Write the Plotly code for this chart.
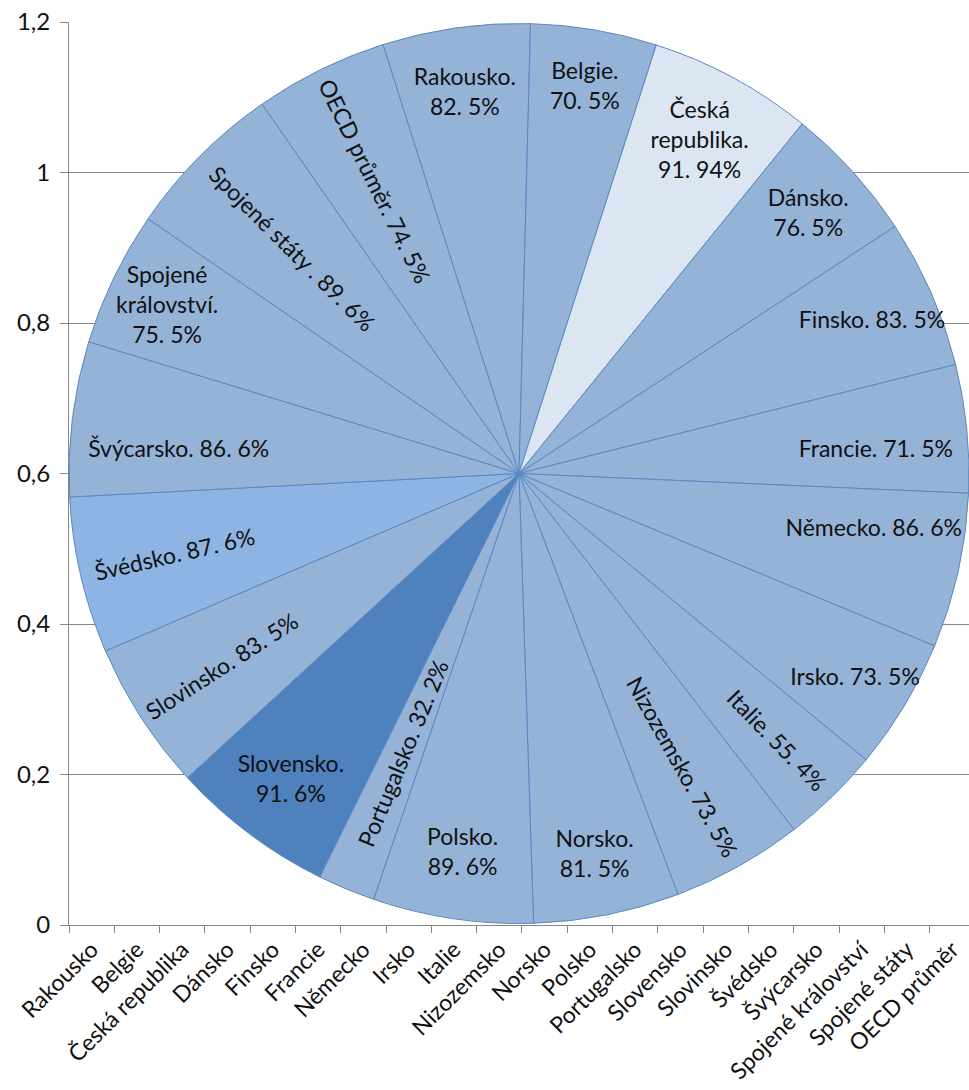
import plotly.graph_objects as go

# ---------------- data ----------------
countries = ["Rakousko", "Belgie", "Česká republika", "Dánsko", "Finsko", "Francie",
             "Německo", "Irsko", "Italie", "Nizozemsko", "Norsko", "Polsko",
             "Portugalsko", "Slovensko", "Slovinsko", "Švédsko", "Švýcarsko",
             "Spojené království", "Spojené státy", "OECD průměr"]
shares = [82.5, 70.5, 91.94, 76.5, 83.5, 71.5, 86.6, 73.5, 55.4, 73.5, 81.5, 89.6,
          32.2, 91.6, 83.5, 87.6, 86.6, 75.5, 89.6, 74.5]
pie_names = ["Rakousko.", "Belgie.", "Česká<br>republika.", "Dánsko.", "Finsko.", "Francie.",
             "Německo.", "Irsko.", "Italie.", "Nizozemsko.", "Norsko.", "Polsko.",
             "Portugalsko.", "Slovensko.", "Slovinsko.", "Švédsko.", "Švýcarsko.",
             "Spojené<br>království.", "Spojené státy .", "OECD průměr."]
y_ticks = [0, 0.2, 0.4, 0.6, 0.8, 1.0, 1.2]

# ---------------- label styling ----------------
# value on a new line?
value_breaks = [True, True, True, True, False, False, False, False, False, False, True, True,
                False, True, False, False, False, True, False, False]
# label placement: h = horizontal, r = radial, w = horizontal (wide, nearer centre)
label_modes = ["h", "h", "h", "h", "h", "w", "w", "h", "r", "r", "h", "h",
               "r", "h", "r", "r", "w", "h", "r", "r"]
# em-space padding before / after radial labels (shifts them along the radius)
pad_lead = [0, 0, 0, 0, 0, 0, 0, 0, 9, 7, 0, 0, 3, 0, 0, 0, 0, 0, 0, 0]
pad_trail = [0, 0, 0, 0, 0, 0, 0, 0, 0, 0, 0, 0, 0, 0, 10, 10, 0, 0, 6, 6]

BASE = "#95B3D7"
special = {"Česká republika": "#DCE6F2", "Švédsko": "#8DB4E2", "Slovensko": "#4F81BD"}
slice_colors = [special.get(c, BASE) for c in countries]
FONT = "Lato, 'Open Sans', 'DejaVu Sans', sans-serif"
TXT = "#111111"
GRID = "#878787"
PIE_FS = 23
EM = "\u2003"


def fmt(v):
    return ("%g" % v).replace(".", ". ") + "%"


texts = []
for name, v, br, pl, pt in zip(pie_names, shares, value_breaks, pad_lead, pad_trail):
    texts.append(EM * pl + name + ("<br>" if br else " ") + fmt(v) + EM * pt)

text_h = [t if m == "h" else "" for t, m in zip(texts, label_modes)]
text_r = [t if m == "r" else "" for t, m in zip(texts, label_modes)]
text_w = [t if m == "w" else "" for t, m in zip(texts, label_modes)]

fig = go.Figure()

# invisible trace to register the category axis
fig.add_trace(go.Scatter(x=countries, y=[0] * len(countries), mode="markers",
                         marker=dict(size=0.1, opacity=0), hoverinfo="skip",
                         showlegend=False))

common = dict(labels=countries, values=shares, sort=False, direction="clockwise",
              rotation=-17.6, textinfo="text", textposition="inside", showlegend=False,
              hoverinfo="skip", insidetextfont=dict(family=FONT, size=PIE_FS, color=TXT))
clear = dict(colors=["rgba(0,0,0,0)"] * len(countries), line=dict(width=0))

fig.add_trace(go.Pie(text=text_h, insidetextorientation="horizontal",
                     marker=dict(colors=slice_colors, line=dict(color="#5A88C2", width=1)),
                     domain=dict(x=[0, 1], y=[0, 1]), **common))
fig.add_trace(go.Pie(text=text_r, insidetextorientation="radial", marker=clear,
                     domain=dict(x=[0, 1], y=[0, 1]), **common))
fig.add_trace(go.Pie(text=text_w, insidetextorientation="horizontal", marker=clear,
                     domain=dict(x=[0.0261, 0.9739], y=[0.0554, 1.0]), **common))

fig.update_layout(
    width=969, height=1090,
    margin=dict(l=69, r=0, t=22, b=165),
    paper_bgcolor="white", plot_bgcolor="white",
    separators=", ",
    uniformtext=dict(mode="show", minsize=PIE_FS),
    font=dict(family=FONT, color=TXT),
    showlegend=False,
    xaxis=dict(type="category", categoryorder="array", categoryarray=countries,
               range=[-0.5, 19.37], tickangle=-45, tickson="boundaries",
               ticks="outside", ticklen=7, tickcolor=GRID, showgrid=False,
               showline=True, linecolor=GRID, linewidth=1, zeroline=False,
               ticklabelstandoff=1,
               tickfont=dict(family=FONT, size=23, color=TXT), automargin=False,
               fixedrange=True),
    yaxis=dict(range=[0, 1.2], tickvals=y_ticks, ticks="outside", ticklen=8,
               tickcolor=GRID, showgrid=True, gridcolor=GRID, gridwidth=1,
               showline=True, linecolor=GRID, linewidth=1, zeroline=False,
               ticklabelstandoff=5,
               tickfont=dict(family=FONT, size=24, color=TXT), automargin=False,
               fixedrange=True),
)

fig.write_html("out.html")
